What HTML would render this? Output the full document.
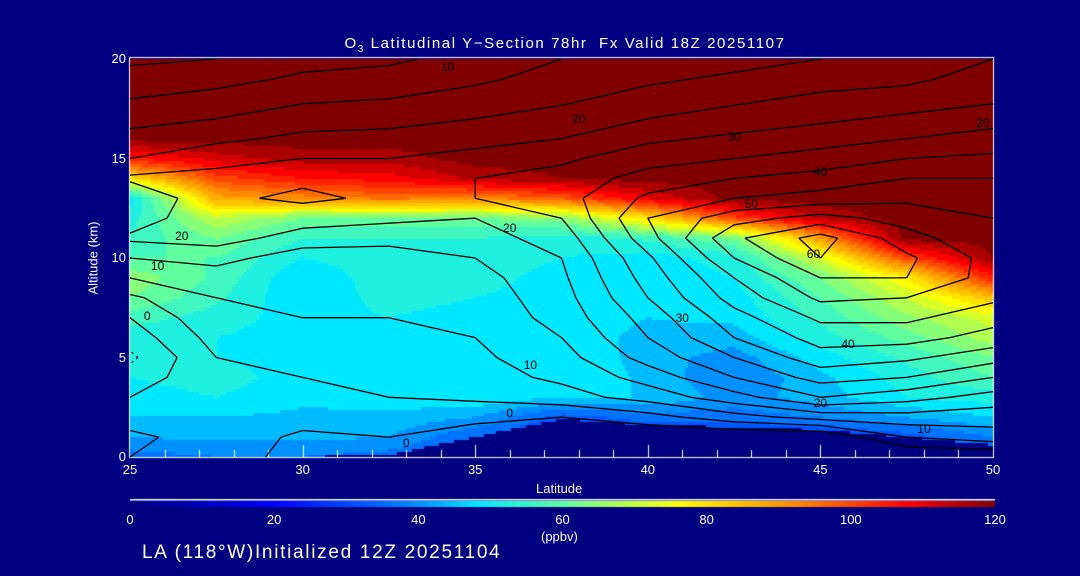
<!DOCTYPE html>
<html><head><meta charset="utf-8"><style>
html,body{margin:0;padding:0;background:#000080;}
#wrap{position:relative;width:1080px;height:576px;background:#000080;overflow:hidden;font-family:"Liberation Sans",sans-serif;color:#fff;}
.t{position:absolute;white-space:nowrap;font-size:13px;}
.cl{position:absolute;white-space:nowrap;font-size:12px;color:#000;transform:translate(-50%,-50%);}
canvas{position:absolute;left:0;top:0;}
</style></head><body>
<div id="wrap">
<canvas id="cv" width="1080" height="576"></canvas>
<svg id="sv" width="1080" height="576" style="position:absolute;left:0;top:0"></svg>
<div class="t" style="left:0;width:1130px;text-align:center;top:35px;font-size:15px;letter-spacing:1.6px">O<sub style="font-size:10px">3</sub> Latitudinal Y−Section 78hr&nbsp; Fx Valid 18Z 20251107</div>
<div class="t" style="left:536px;top:481px">Latitude</div>
<div class="t" style="left:93px;top:258px;transform:translate(-50%,-50%) rotate(-90deg)">Altitude (km)</div>
<div class="t" style="left:541px;top:529px">(ppbv)</div>
<div class="t" style="left:142px;top:542px;font-size:19px;letter-spacing:1.7px">LA (118°W)Initialized 12Z 20251104</div>
<div id="labels"></div>
</div>
<script>
const lats=[25,27.5,30,32.5,35,37.5,40,42.5,45,47.5,50];
const alts=[0,1,2,3,4,5,6,7,8,9,10,11,12,13,14,15,16,17,18,19,20];
// ozone (ppbv) per lat column, alt 0..20
const o3=[
[36,42,46,48,50,50,52,56,62,65,58,55,52,48,80,105,120,120,120,120,120],
[38,43,46,50,52,50,50,52,55,57,58,62,70,88,100,112,120,120,120,120,120],
[38,43,45,47,48,48,48,48,46,46,50,54,62,92,106,116,120,120,120,120,120],
[36,42,45,48,48,48,48,50,52,53,53,54,62,95,108,116,120,120,120,120,120],
[32,34,42,50,50,48,48,48,50,52,53,54,62,92,115,120,120,120,120,120,120],
[28,28,32,46,50,50,48,48,48,48,50,52,64,98,118,120,120,120,120,120,120],
[28,28,36,46,45,44,45,46,46,47,48,55,80,110,120,120,120,120,120,120,120],
[28,28,36,40,38,40,44,47,48,50,52,62,100,120,120,120,120,120,120,120,120],
[28,28,38,44,45,48,52,55,58,62,72,90,115,120,120,120,120,120,120,120,120],
[28,32,42,50,52,55,60,65,70,78,100,120,120,120,120,120,120,120,120,120,120],
[30,38,46,52,58,62,68,72,85,105,118,120,120,120,120,120,120,120,120,120,120]];
// terrain height (km) per lat column
const terrain=[0,0,0,0.1,1.0,1.9,1.6,1.5,1.35,1.0,0.6];
// contour field per lat column, alt 0..20
const cf=[
[5,6,3,0,-3,-6,-3,0,4,10,15,21,17,15,21,15,12,8,5,2,-1],
[4,3,1,2,4,5,7,9,10,12,17,22,24,24,22,18,14,10,7,3,0],
[-3,-1,2,4,5,7,9,10,12,14,12,18,22,26,24,20,16,13,9,6,3],
[-3,0,3,5,7,8,9,10,11,12,12,17,21,24,24,20,17,13,10,7,4],
[-5,-2,1,6,8,9,10,11,12,13,15,18,20,25,25,22,18,15,12,9,7],
[-5,-5,0,8,11,13,15,17,18,19,20,22,25,28,27,24,20,17,14,12,10],
[-5,-5,3,12,17,22,25,27,30,32,34,38,40,36,32,28,24,20,17,14,12],
[-5,-5,8,18,25,30,35,38,42,45,50,54,48,40,35,30,26,22,19,16,13],
[-5,-5,12,25,32,38,42,46,51,55,60,62,52,42,37,32,28,24,21,18,15],
[-5,5,13,22,30,36,42,46,50,55,56,52,48,44,40,35,30,26,22,19,17],
[-5,8,12,18,25,32,38,42,46,48,48,46,45,43,40,36,32,28,24,22,20]];
const levels=[-5,0,5,10,15,20,25,30,35,40,45,50,55,60];
// contour label texts and their (lat, alt) anchor
const clText=['10','20','20','10','0','20','30','40','50','60','40','20','10','30','10','0','20','0'];
const clLat=[34.2,38,26.5,25.8,25.5,36,42.5,45,43,44.8,45.8,45,48,41,36.6,36,49.7,33];
const clAlt=[19.6,17,11.1,9.6,7.1,11.5,16.1,14.3,12.7,10.2,5.7,2.7,1.4,7,4.6,2.2,16.8,0.7];
const xTicks=[25,30,35,40,45,50];
const yTicks=[0,5,10,15,20];
const cbTicks=[0,20,40,60,80,100,120];

const X0=130,X1=993,Y0=59,Y1=457;
const xs=l=>X0+(l-25)/25*(X1-X0);
const ys=a=>Y1-a/20*(Y1-Y0);
const stops=[[0,[0,0,128]],[20,[0,0,255]],[40,[0,144,255]],[48,[0,232,255]],[60,[96,255,160]],[76,[255,255,0]],[92,[255,140,0]],[108,[255,0,0]],[120,[128,0,0]]];
function cmap(v){v=Math.max(0,Math.min(120,v));for(let i=1;i<stops.length;i++){if(v<=stops[i][0]){const a=stops[i-1],b=stops[i],t=(v-a[0])/(b[0]-a[0]);return a[1].map((c,k)=>Math.round(c+(b[1][k]-c)*t));}}return stops[stops.length-1][1];}
function bil(g,lat,alt){let fi=(lat-25)/2.5,fj=alt;let i=Math.max(0,Math.min(Math.floor(fi),lats.length-2)),j=Math.max(0,Math.min(Math.floor(fj),alts.length-2));let u=fi-i,v=fj-j;return g[i][j]*(1-u)*(1-v)+g[i+1][j]*u*(1-v)+g[i][j+1]*(1-u)*v+g[i+1][j+1]*u*v;}
function terr(lat){let fi=(lat-25)/2.5,i=Math.min(Math.floor(fi),lats.length-2),u=fi-i;return terrain[i]*(1-u)+terrain[i+1]*u;}
const cv=document.getElementById('cv'),ctx=cv.getContext('2d');
const step=3;
for(let px=X0;px<X1;px+=step){for(let py=Y0;py<Y1;py+=step){
 const lat=25+(px+step/2-X0)/(X1-X0)*25,alt=(Y1-(py+step/2))/(Y1-Y0)*20;
 let v=bil(o3,lat,alt);if(alt<terr(lat))v=0;v=Math.round(v/4)*4;
 const c=cmap(v);ctx.fillStyle=`rgb(${c[0]},${c[1]},${c[2]})`;ctx.fillRect(px,py,Math.min(step,X1-px),Math.min(step,Y1-py));}}
// colorbar
for(let px=130;px<995;px++){const c=cmap((px-130)/865*120);ctx.fillStyle=`rgb(${c[0]},${c[1]},${c[2]})`;ctx.fillRect(px,501,1,6);}
ctx.fillStyle='#fff';ctx.fillRect(130,499,865,1.5);
// axes
ctx.strokeStyle='#fff';ctx.lineWidth=1;ctx.strokeRect(X0-0.5,Y0-1.5,X1-X0+1,Y1-Y0+2);
ctx.beginPath();
for(let l=26;l<50;l++){const x=Math.round(xs(l))+0.5;ctx.moveTo(x,Y1);ctx.lineTo(x,Y1-(l%5===0?12:7));}
ctx.stroke();
const sv=document.getElementById('sv'),NS='http://www.w3.org/2000/svg';
for(const L of levels){let d='';
 for(let i=0;i<lats.length-1;i++)for(let j=0;j<alts.length-1;j++){
  const cs=[[i,j],[i+1,j],[i+1,j+1],[i,j+1]];const pts=[];
  for(let k=0;k<4;k++){const a=cs[k],b=cs[(k+1)%4];const va=cf[a[0]][a[1]],vb=cf[b[0]][b[1]];
   if((va<L)!==(vb<L)){const t=(L-va)/(vb-va);const la=lats[a[0]]+(lats[b[0]]-lats[a[0]])*t,al=alts[a[1]]+(alts[b[1]]-alts[a[1]])*t;pts.push([xs(la),ys(al)]);}}
  for(let k=0;k+1<pts.length;k+=2)d+=`M${pts[k][0].toFixed(1)},${pts[k][1].toFixed(1)}L${pts[k+1][0].toFixed(1)},${pts[k+1][1].toFixed(1)}`;}
 const p=document.createElementNS(NS,'path');p.setAttribute('d',d);p.setAttribute('stroke','#000');p.setAttribute('stroke-width','1.3');p.setAttribute('fill','none');
 if(L<0)p.setAttribute('stroke-dasharray','2,4');
 
 
 sv.appendChild(p);}
const lab=document.getElementById('labels');
clText.forEach((s,i)=>{const d=document.createElement('div');d.className='cl';d.textContent=s;
 d.style.left=xs(clLat[i])+'px';d.style.top=ys(clAlt[i])+'px';
 
 
 lab.appendChild(d);});
function addT(txt,x,y,anchor,name){const d=document.createElement('div');d.className='t';d.textContent=txt;d.style.top=(y-8)+'px';
 if(anchor==='r'){d.style.right=(1080-x)+'px';}else{d.style.left=x+'px';d.style.transform='translateX(-50%)';}
 
 
 lab.appendChild(d);}
xTicks.forEach(v=>addT(String(v),xs(v),470,'c','x-tick-label'));
yTicks.forEach(v=>addT(String(v),126,ys(v),'r','y-tick-label'));
cbTicks.forEach(v=>addT(String(v),130+v/120*865,520,'c','colorbar-tick-label'));
</script>
</body></html>
